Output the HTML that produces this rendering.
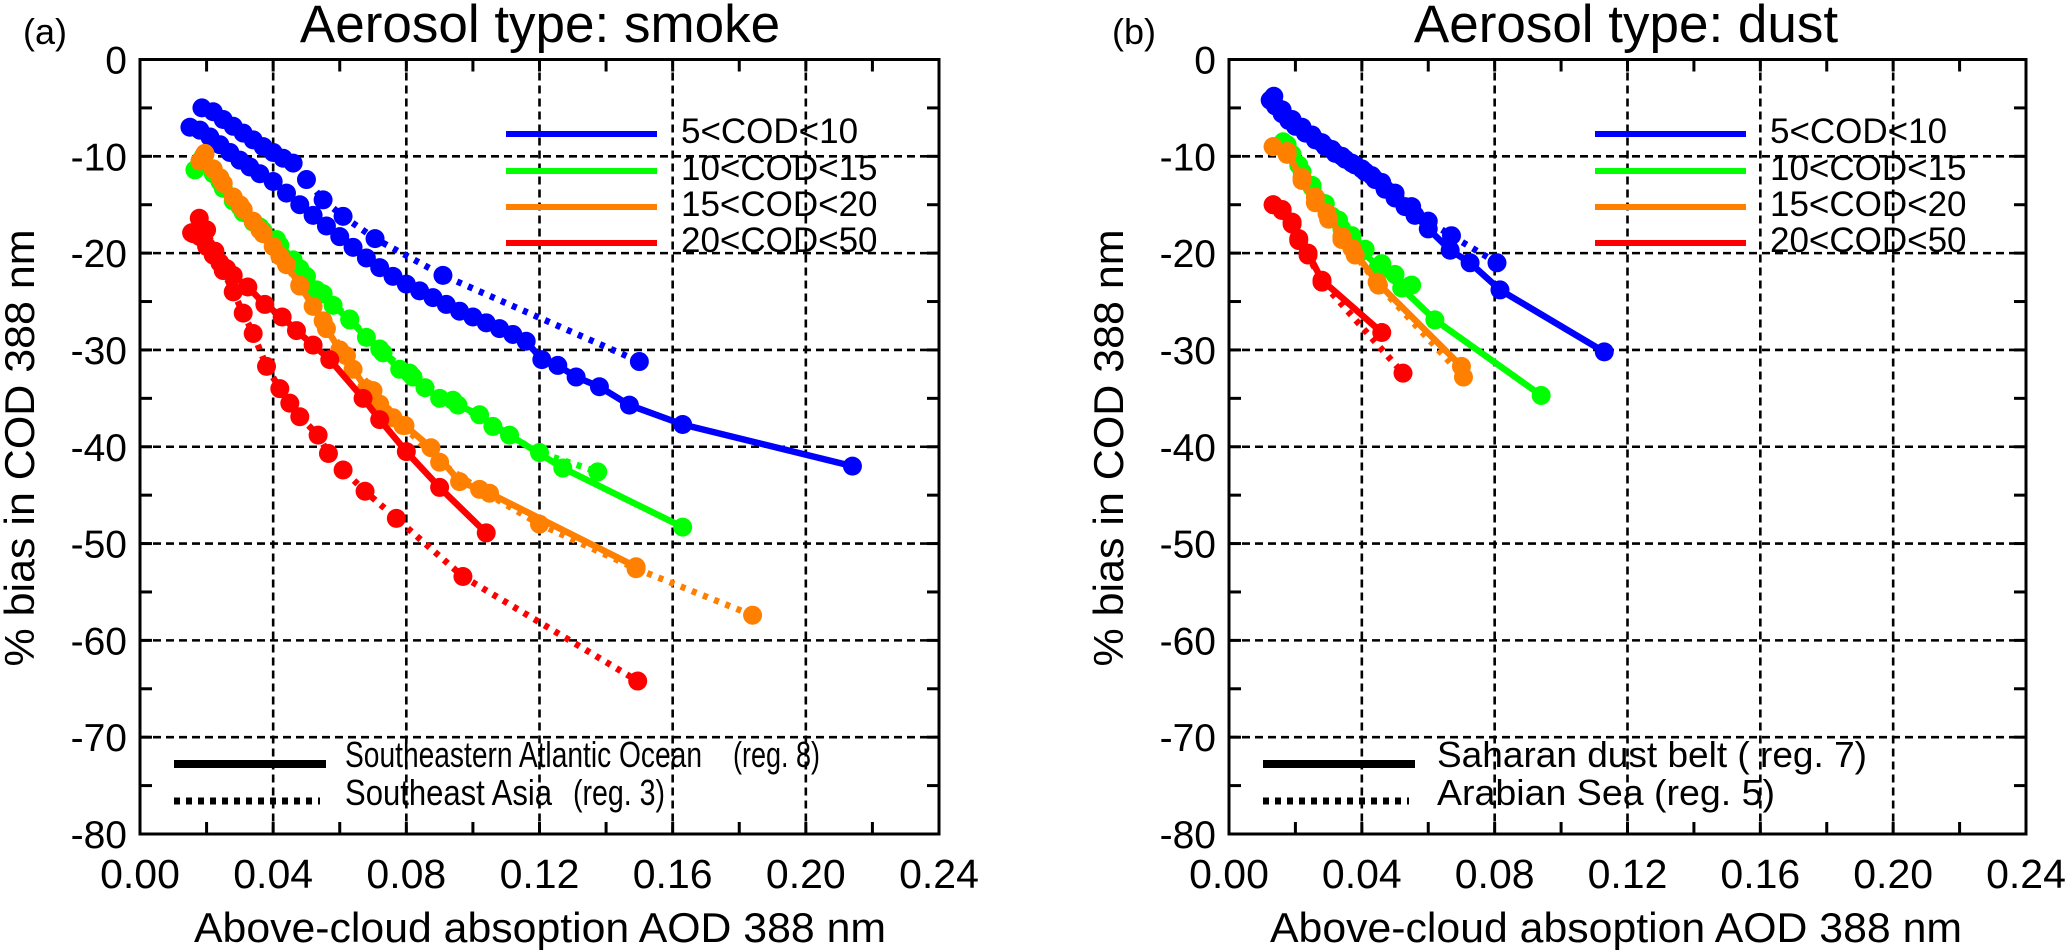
<!DOCTYPE html>
<html><head><meta charset="utf-8"><style>
html,body{margin:0;padding:0;background:#fff;}
svg{display:block;font-family:"Liberation Sans",Arial,sans-serif;}
</style></head><body>
<svg id="chart" width="2067" height="950" viewBox="0 0 2067 950" xmlns="http://www.w3.org/2000/svg"></svg>
<script>
// ---------- Data: smoke panel (a) ----------
const smokeBlueSolidX = [0.015,0.018,0.021,0.024,0.027,0.030,0.033,0.036,0.040,0.044,0.048,0.052,0.056,0.060,0.064,0.068,0.072,0.076,0.080,0.084,0.088,0.092,0.096,0.100,0.104,0.108,0.112,0.116,0.1207,0.1255,0.131,0.138,0.147,0.163,0.214];
const smokeBlueSolidY = [-7.0,-7.3,-8.0,-8.8,-9.6,-10.4,-11.1,-11.8,-12.6,-13.8,-15.0,-16.1,-17.2,-18.3,-19.4,-20.5,-21.5,-22.4,-23.2,-23.9,-24.6,-25.3,-26.0,-26.6,-27.2,-27.8,-28.4,-29.1,-31.0,-31.6,-32.8,-33.8,-35.7,-37.7,-42.0];
const smokeBlueDotX = [0.0186,0.022,0.025,0.028,0.031,0.034,0.037,0.040,0.043,0.046,0.050,0.055,0.061,0.0706,0.091,0.150];
const smokeBlueDotY = [-5.0,-5.4,-6.2,-6.9,-7.6,-8.3,-9.0,-9.6,-10.2,-10.7,-12.4,-14.5,-16.2,-18.5,-22.3,-31.2];
const smokeGreenSolidX = [0.0165,0.019,0.022,0.025,0.028,0.031,0.034,0.037,0.041,0.046,0.050,0.053,0.058,0.063,0.068,0.073,0.078,0.081,0.0856,0.090,0.0955,0.102,0.111,0.127,0.163];
const smokeGreenSolidY = [-11.4,-10.3,-11.8,-13.3,-14.6,-15.8,-16.8,-17.7,-18.6,-20.7,-22.4,-23.8,-25.4,-26.9,-28.7,-30.3,-32.0,-32.4,-33.9,-35.0,-35.7,-36.7,-38.8,-42.2,-48.3];
const smokeGreenDotX = [0.019,0.024,0.030,0.036,0.042,0.048,0.055,0.063,0.072,0.082,0.094,0.106,0.120,0.1375];
const smokeGreenDotY = [-10.0,-12.6,-15.2,-17.3,-19.2,-21.6,-24.2,-26.8,-29.9,-32.8,-35.2,-37.9,-40.6,-42.6];
const smokeOrangeSolidX = [0.018,0.0195,0.022,0.025,0.028,0.031,0.034,0.037,0.040,0.044,0.048,0.052,0.056,0.060,0.064,0.068,0.072,0.076,0.0796,0.0874,0.096,0.105,0.149];
const smokeOrangeSolidY = [-10.5,-9.7,-11.3,-12.8,-14.2,-15.5,-16.7,-18.0,-19.3,-21.2,-23.3,-25.5,-27.8,-30.0,-32.0,-34.0,-35.6,-37.0,-37.8,-40.1,-43.6,-44.8,-52.4];
const smokeOrangeDotX = [0.0195,0.024,0.030,0.036,0.042,0.048,0.055,0.062,0.070,0.079,0.090,0.102,0.120,0.149,0.184];
const smokeOrangeDotY = [-9.8,-12.2,-15.0,-17.6,-20.3,-23.4,-27.0,-30.6,-34.2,-37.8,-41.6,-44.4,-48.0,-52.6,-57.4];
const smokeRedSolidX = [0.016,0.018,0.020,0.022,0.024,0.026,0.028,0.0324,0.0375,0.0427,0.047,0.052,0.057,0.067,0.072,0.080,0.090,0.104];
const smokeRedSolidY = [-18.0,-18.3,-19.3,-20.2,-21.0,-21.6,-22.3,-23.5,-25.3,-26.6,-28.0,-29.5,-31.0,-35.0,-37.2,-40.5,-44.2,-48.9];
const smokeRedDotX = [0.0155,0.0178,0.020,0.0225,0.025,0.028,0.031,0.034,0.038,0.042,0.045,0.048,0.0535,0.0566,0.061,0.0676,0.077,0.097,0.1495];
const smokeRedDotY = [-17.9,-16.4,-17.6,-19.8,-21.8,-24.0,-26.2,-28.3,-31.7,-34.0,-35.5,-36.9,-38.8,-40.7,-42.4,-44.6,-47.4,-53.4,-64.2];

// ---------- Data: dust panel (b) ----------
const dustBlueSolidX = [0.0124,0.014,0.016,0.018,0.020,0.023,0.026,0.029,0.032,0.035,0.038,0.041,0.044,0.047,0.050,0.053,0.056,0.060,0.0666,0.0726,0.0816,0.113];
const dustBlueSolidY = [-4.2,-4.8,-5.6,-6.3,-6.9,-7.6,-8.3,-9.0,-9.7,-10.3,-10.9,-11.6,-12.4,-13.4,-14.3,-15.2,-16.1,-17.5,-19.7,-21.0,-23.8,-30.2];
const dustBlueDotX = [0.0135,0.016,0.019,0.022,0.025,0.028,0.031,0.034,0.037,0.040,0.043,0.046,0.050,0.055,0.060,0.067,0.0807];
const dustBlueDotY = [-3.8,-5.2,-6.2,-7.0,-7.8,-8.6,-9.3,-10.0,-10.7,-11.3,-12.0,-12.7,-13.8,-15.2,-16.7,-18.2,-21.0];
const dustGreenSolidX = [0.0163,0.019,0.022,0.025,0.028,0.031,0.034,0.037,0.040,0.045,0.052,0.062,0.094];
const dustGreenSolidY = [-8.5,-9.8,-11.6,-13.2,-14.8,-16.2,-17.5,-18.7,-19.8,-21.4,-23.6,-26.9,-34.7];
const dustGreenDotX = [0.0175,0.021,0.025,0.029,0.033,0.037,0.041,0.046,0.050,0.055];
const dustGreenDotY = [-8.8,-10.9,-13.0,-14.9,-16.6,-18.2,-19.6,-21.1,-22.2,-23.3];
const dustOrangeSolidX = [0.0133,0.0175,0.022,0.026,0.0295,0.034,0.037,0.0446,0.070];
const dustOrangeSolidY = [-9.0,-9.5,-12.5,-14.8,-15.9,-18.3,-19.5,-23.0,-31.7];
const dustOrangeDotX = [0.0133,0.0175,0.022,0.026,0.030,0.034,0.038,0.045,0.0706];
const dustOrangeDotY = [-9.0,-9.8,-12.2,-14.2,-16.5,-18.6,-20.2,-23.3,-32.8];
const dustRedSolidX = [0.0133,0.016,0.019,0.021,0.0238,0.028,0.046];
const dustRedSolidY = [-15.0,-15.5,-16.8,-18.5,-20.0,-22.8,-28.2];
const dustRedDotX = [0.0133,0.016,0.019,0.021,0.0238,0.028,0.0524];
const dustRedDotY = [-15.0,-15.6,-17.0,-18.7,-20.2,-23.0,-32.4];

// ---------- Axis ticks ----------
const xTickValues = [0.00,0.04,0.08,0.12,0.16,0.20,0.24];
const xTickLabels = ["0.00","0.04","0.08","0.12","0.16","0.20","0.24"];
const yTickValues = [0,-10,-20,-30,-40,-50,-60,-70,-80];
const yTickLabels = ["0","-10","-20","-30","-40","-50","-60","-70","-80"];
const codLegendLabels = ["5<COD<10","10<COD<15","15<COD<20","20<COD<50"];
const seriesColors = ["#0000ff","#00ff00","#ff8000","#ff0000"];

const NS = "http://www.w3.org/2000/svg";
const svg = document.getElementById('chart');
function mk(tag, attrs, parent){
  const e = document.createElementNS(NS, tag);
  for (const k in attrs) e.setAttribute(k, attrs[k]);
  (parent||svg).appendChild(e);
  return e;
}

const panels = [
  {id:'smoke', left:140, right:939, letter:'(a)', title:'Aerosol type: smoke', titleX:540,
   series:[[smokeBlueSolidX,smokeBlueSolidY,smokeBlueDotX,smokeBlueDotY],
           [smokeGreenSolidX,smokeGreenSolidY,smokeGreenDotX,smokeGreenDotY],
           [smokeOrangeSolidX,smokeOrangeSolidY,smokeOrangeDotX,smokeOrangeDotY],
           [smokeRedSolidX,smokeRedSolidY,smokeRedDotX,smokeRedDotY]],
   reg1:['Southeastern Atlantic Ocean',357,'(reg. 8)',733,87],
   reg2:['Southeast Asia',207,'(reg. 3)',573,92]},
  {id:'dust', left:1229, right:2026, letter:'(b)', title:'Aerosol type: dust', titleX:1626,
   series:[[dustBlueSolidX,dustBlueSolidY,dustBlueDotX,dustBlueDotY],
           [dustGreenSolidX,dustGreenSolidY,dustGreenDotX,dustGreenDotY],
           [dustOrangeSolidX,dustOrangeSolidY,dustOrangeDotX,dustOrangeDotY],
           [dustRedSolidX,dustRedSolidY,dustRedDotX,dustRedDotY]],
   reg1:['Saharan  dust belt ( reg. 7)',430,null,0,0],
   reg2:['Arabian Sea  (reg. 5)',338,null,0,0]}
];
const TOP = 59.5, BOT = 834;
function yScale(b){ return TOP + (0 - b) / 80 * (BOT - TOP); }

panels.forEach(p => {
  const off = p.left - 140;
  const xScale = v => p.left + v / 0.24 * (p.right - p.left);
  const g = mk('g', {});
  
  

  const grid = mk('g', {stroke:'#000','stroke-width':2.6,'stroke-dasharray':'8 5',fill:'none'}, g);
  
  
  xTickValues.forEach(v => { if (v>0 && v<0.24){ const x=xScale(v); mk('line',{x1:x,x2:x,y1:TOP,y2:BOT},grid);} });
  yTickValues.forEach(v => { if (v<0 && v>-80){ const y=yScale(v); mk('line',{x1:p.left,x2:p.right,y1:y,y2:y},grid);} });

  const ticks = mk('g', {stroke:'#000','stroke-width':3}, g);
  
  
  for (let i=1;i<12;i++){ const x=xScale(i*0.02);
    mk('line',{x1:x,x2:x,y1:BOT,y2:BOT-12},ticks); mk('line',{x1:x,x2:x,y1:TOP,y2:TOP+12},ticks); }
  for (let i=1;i<16;i++){ const y=yScale(-i*5);
    mk('line',{x1:p.left,x2:p.left+12,y1:y,y2:y},ticks); mk('line',{x1:p.right,x2:p.right-12,y1:y,y2:y},ticks); }

  xTickValues.forEach((v,i) => {
    const t = mk('text',{x:xScale(v),y:888,'font-size':41,'text-anchor':'middle'},g);
    
    
    t.textContent = xTickLabels[i];
  });
  yTickValues.forEach((v,i) => {
    const t = mk('text',{x:p.left-13,y:yScale(v)+14,'font-size':39,'text-anchor':'end'},g);
    
    
    t.textContent = yTickLabels[i];
  });

  p.series.forEach((s,ci) => {
    const col = seriesColors[ci];
    [[s[0],s[1],'solid'],[s[2],s[3],'dotted']].forEach(([xs,ys,kind]) => {
      const sg = mk('g',{},g);
      
      
      const pts = xs.map((v,k) => xScale(v).toFixed(1)+','+yScale(ys[k]).toFixed(1)).join(' ');
      const pl = mk('polyline',{points:pts,fill:'none',stroke:col,'stroke-width':6.5,'stroke-linejoin':'round'},sg);
      if (kind==='dotted') pl.setAttribute('stroke-dasharray','5 7');
      
      
      xs.forEach((v,k) => {
        const c = mk('circle',{cx:xScale(v),cy:yScale(ys[k]),r:9.5,fill:col},sg);
        
        
      });
    });
  });

  const box = mk('rect',{x:p.left,y:TOP,width:p.right-p.left,height:BOT-TOP,fill:'none',stroke:'#000','stroke-width':3},g);
  
  

  const lg = mk('g',{},g);
  
  
  [134,171,207,243].forEach((y,i) => {
    const l = mk('line',{x1:366+p.left,x2:517+p.left,y1:y,y2:y,stroke:seriesColors[i],'stroke-width':6},lg);
    
    
    const t = mk('text',{x:541+p.left,y:y+9,'font-size':35},lg);
    
    
    t.textContent = codLegendLabels[i];
  });

  const rg = mk('g',{},g);
  
  
  const sl = mk('line',{x1:p.left+34,x2:p.left+186,y1:764,y2:764,stroke:'#000','stroke-width':8},rg);
  
  
  const dl = mk('line',{x1:p.left+34,x2:p.left+180,y1:801,y2:801,stroke:'#000','stroke-width':7,'stroke-dasharray':'6 6'},rg);
  
  
  [[p.reg1,767],[p.reg2,805]].forEach(([r,y]) => {
    const t = mk('text',{x:p.left+(p.id==='smoke'?205:208),y:y,'font-size':36,textLength:r[1],lengthAdjust:'spacingAndGlyphs'},rg);
    
    
    t.textContent = r[0];
    if (r[2]) {
      const t2 = mk('text',{x:r[3],y:y,'font-size':36,textLength:r[4],lengthAdjust:'spacingAndGlyphs'},rg);
      
      
      t2.textContent = r[2];
    }
  });

  const tt = mk('text',{x:p.titleX,y:42,'font-size':53,'text-anchor':'middle'},g);
  
  
  tt.textContent = p.title;
  const lt = mk('text',{x:23+off,y:44,'font-size':36},g);
  
  
  lt.textContent = p.letter;
  const xt = mk('text',{x:(p.id==='smoke'?540:1616),y:942,'font-size':42,'text-anchor':'middle',textLength:692,lengthAdjust:'spacingAndGlyphs'},g);
  
  
  xt.textContent = 'Above-cloud absoption AOD 388 nm';
  const yt = mk('text',{x:0,y:0,'font-size':42,'text-anchor':'middle',textLength:437,lengthAdjust:'spacingAndGlyphs',transform:'translate('+(34+off)+',448) rotate(-90)'},g);
  
  
  yt.textContent = '% bias in COD 388 nm';
});
</script>
</body></html>
